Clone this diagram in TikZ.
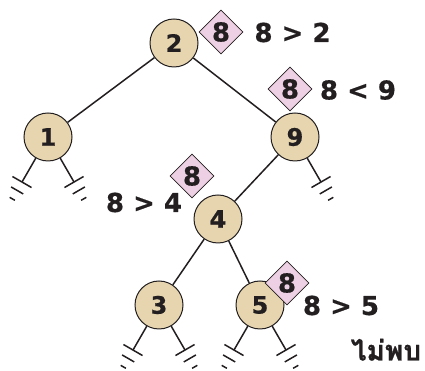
\documentclass[tikz,border=0pt]{standalone}
\usepackage{fontspec}
\setmainfont{DejaVu Sans}[BoldFeatures={FakeBold=0.6}]
\newfontfamily\thaifont[Script=Thai,BoldFeatures={FakeBold=0.8}]{Loma}
\usetikzlibrary{shapes.geometric}
\definecolor{beige}{HTML}{E6D5AE}
\definecolor{pinkd}{HTML}{EED0E4}
\definecolor{ink}{HTML}{231F20}
\begin{document}
\begin{tikzpicture}[x=1pt,y=1pt,
  keynode/.style={circle,draw=ink,line width=1pt,fill=beige,minimum size=48pt,inner sep=0pt,
    font=\fontsize{24}{24}\selectfont\bfseries,text=ink},
  probe/.style={diamond,draw=ink,line width=0.8pt,fill=pinkd,minimum width=44pt,minimum height=44pt,
    inner sep=0pt,font=\fontsize{26}{26}\selectfont\bfseries,text=ink},
  cmp/.style={inner sep=0pt,font=\fontsize{26}{26}\selectfont\bfseries,text=ink},
  edge/.style={draw=ink,line width=1.5pt},
  ground/.pic={\draw[ink,line width=1.5pt] (-11,0)--(11,0) (-7,-9.7)--(7,-9.7) (-3,-19.4)--(3,-19.4);}
]
\clip (0,0) rectangle (425,371);
% nodes
\node[keynode] (n2) at (174,328) {2};
\node[keynode] (n1) at (48,234) {1};
\node[keynode] (n9) at (295,234) {9};
\node[keynode] (n4) at (218,152) {4};
\node[keynode] (n3) at (159,66) {3};
\node[keynode] (n5) at (260,66) {5};
% edges
\draw[edge] (n2) -- (n1);
\draw[edge] (n2) -- (n9);
\draw[edge] (n9) -- (n4);
\draw[edge] (n4) -- (n3);
\draw[edge] (n4) -- (n5);
% null stubs
\path (n1) ++(240:52pt) coordinate (g1l);
\path (n1) ++(300:52pt) coordinate (g1r);
\path (n9) ++(300:52pt) coordinate (g9r);
\path (n3) ++(240:52pt) coordinate (g3l);
\path (n3) ++(300:52pt) coordinate (g3r);
\path (n5) ++(240:52pt) coordinate (g5l);
\path (n5) ++(300:52pt) coordinate (g5r);
\draw[edge] (n1) -- (g1l);
\draw[edge] (n1) -- (g1r);
\draw[edge] (n9) -- (g9r);
\draw[edge] (n3) -- (g3l);
\draw[edge] (n3) -- (g3r);
\draw[edge] (n5) -- (g5l);
\draw[edge] (n5) -- (g5r);
\pic[rotate=-30] at (g1l) {ground};
\pic[rotate=30] at (g1r) {ground};
\pic[rotate=30] at (g9r) {ground};
\pic[rotate=-30] at (g3l) {ground};
\pic[rotate=30] at (g3r) {ground};
\pic[rotate=-30] at (g5l) {ground};
\pic[rotate=30] at (g5r) {ground};
% probes
\node[probe] (d2) at (221,339) {8};
\node[probe] (d9) at (290,282) {8};
\node[probe] (d4) at (192,195) {8};
\node[probe] (d5) at (287,88) {8};
% comparisons
\node[cmp] (l2) at (292.5,338.5) {8 > 2};
\node[cmp] (l9) at (358,281) {8 < 9};
\node[cmp] (l4) at (144,168.5) {8 > 4};
\node[cmp] (l5) at (341,65.5) {8 > 5};
\node[inner sep=0pt,anchor=base,text=ink,font=\thaifont\bfseries\fontsize{28}{28}\selectfont] (nf) at (386,10.5) {ไม่พบ};
\end{tikzpicture}
\end{document}
